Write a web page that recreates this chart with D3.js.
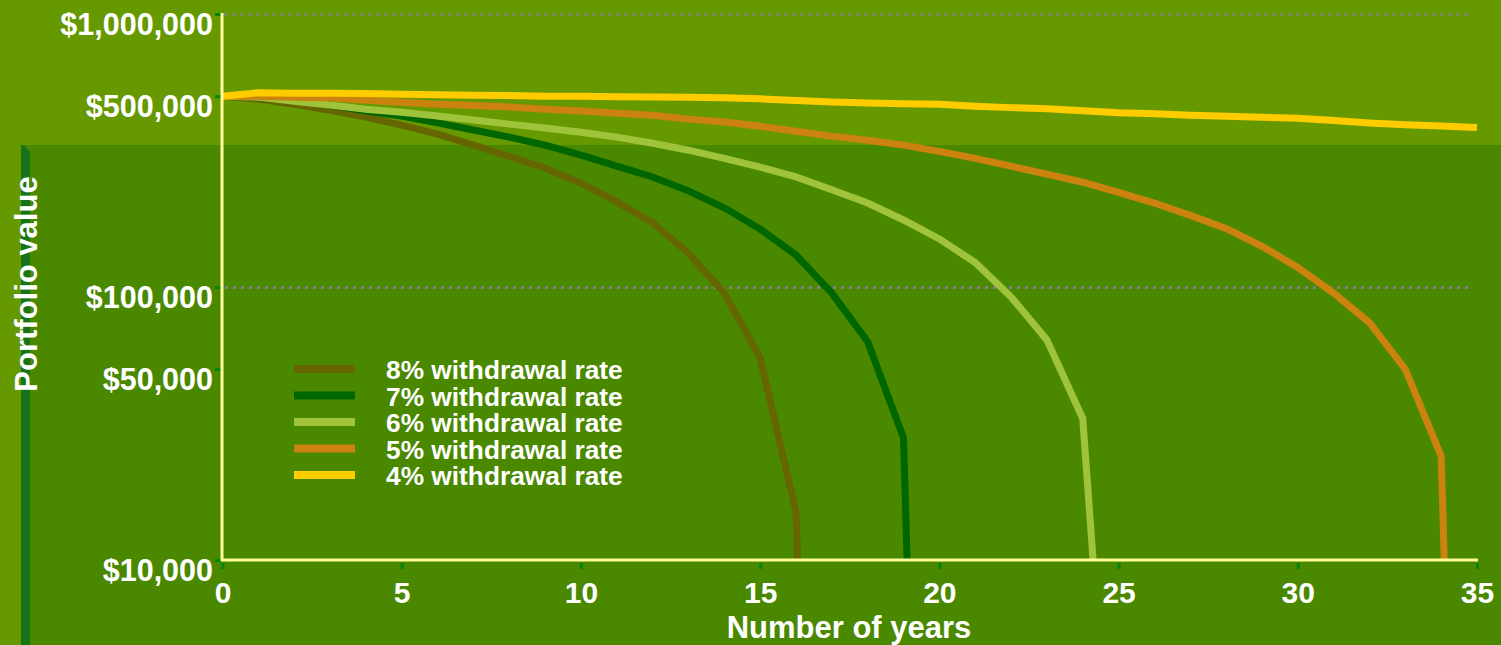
<!DOCTYPE html>
<html lang="en">
<head>
<meta charset="utf-8">
<title>Portfolio value by withdrawal rate</title>
<script src="https://cdn.jsdelivr.net/npm/d3@7"></script>
<style>
  body { margin: 0; background: #669900; overflow: hidden; }
  svg text { font-family: "Liberation Sans", Arial, sans-serif; font-weight: bold; fill: #ffffff; }
</style>
</head>
<body>
<div id="chart"></div>
<script>
// portfolio value at the end of each year (index = year)
var rate8 = [500000, 488000, 467000, 444000, 419000, 392000, 363000, 331000, 301000, 273000,
             240000, 205000, 172000, 133000, 95000, 55000, 15000, 1];
var rate7 = [500000, 497000, 484000, 464000, 441000, 423000, 399000, 376000, 354000, 331000,
             304000, 277000, 253000, 225000, 195000, 163000, 131000, 95000, 63000, 28000, 1];
var rate6 = [500000, 496000, 479000, 464000, 448000, 437000, 423000, 409000, 395000, 382000,
             369000, 354000, 336000, 317000, 296000, 275000, 253000, 227000, 203000, 176000,
             150000, 123000, 92000, 64000, 33000, 530];
var rate5 = [500000, 500000, 496000, 492000, 483000, 475000, 467000, 462000, 456000, 448000,
             441000, 433000, 426000, 412000, 402000, 388000, 372000, 357000, 345000, 331000,
             314000, 296000, 277000, 259000, 242000, 222000, 203000, 183000, 164000, 141000,
             118000, 95000, 74000, 50000, 24000, 1];
var rate4 = [500000, 515000, 513000, 513000, 511000, 508000, 506000, 504000, 503000, 500000,
             500000, 498000, 497000, 496000, 493000, 489000, 482000, 476000, 472000, 469000,
             467000, 459000, 454000, 450000, 442000, 435000, 431000, 426000, 422000, 419000,
             415000, 407000, 399000, 393000, 389000, 384000];

var seriesNames = ["8% withdrawal rate", "7% withdrawal rate", "6% withdrawal rate",
                   "5% withdrawal rate", "4% withdrawal rate"];
var seriesValues = [rate8, rate7, rate6, rate5, rate4];
var colors = ["#666600", "#006600", "#9fc43c", "#cc820e", "#ffcc00"];

var xTicks = [0, 5, 10, 15, 20, 25, 30, 35];
var yTicks = [10000, 50000, 100000, 500000, 1000000];
var gridValues = [100000, 1000000];

var w = 1501, h = 645;

var svg = d3.select("#chart").append("svg")
  .attr("width", w)
  .attr("height", h);

// backgrounds
svg.append("rect").attr("width", w).attr("height", h).attr("fill", "#669900");
svg.append("rect").attr("x", 21).attr("y", 145).attr("width", w - 21).attr("height", h - 145)
  .attr("fill", "#4a8800");
svg.append("path").attr("d", "M21,145 L24,145 L30,152 L30,645 L21,645 Z").attr("fill", "#16731a");

var xScale = d3.scaleLinear().domain([0, 35]).range([222.5, 1477]);
var yScale = d3.scaleLog().domain([10000, 1000000]).range([560, 14]);

// dotted gridlines
svg.selectAll(".grid")
  .data(gridValues)
  .enter()
  .append("line")
  .attr("class", "grid")
  .attr("x1", 225)
  .attr("x2", 1470)
  .attr("y1", function(d) { return Math.floor(yScale(d)) + 0.5; })
  .attr("y2", function(d) { return Math.floor(yScale(d)) + 0.5; })
  .attr("stroke", "#808085")
  .attr("stroke-width", 3)
  .attr("stroke-dasharray", "3,5");

// clip lines to plot area
svg.append("clipPath").attr("id", "plotclip")
  .append("rect").attr("x", 222).attr("y", 0).attr("width", 1270).attr("height", 560);

var line = d3.line()
  .x(function(d, i) { return xScale(i); })
  .y(function(d) { return yScale(d); });

svg.append("g").attr("clip-path", "url(#plotclip)")
  .selectAll("path")
  .data(seriesValues)
  .enter()
  .append("path")
  .attr("d", function(d) { return line(d); })
  .attr("fill", "none")
  .attr("stroke", function(d, i) { return colors[i]; })
  .attr("stroke-width", 7);

// x axis
var xAxis = svg.append("g")
  .attr("transform", "translate(0,560)")
  .call(d3.axisBottom(xScale).tickValues(xTicks).tickSize(0).tickPadding(0));
xAxis.select(".domain").remove();
xAxis.selectAll(".tick line")
  .attr("y1", 3).attr("y2", 9)
  .attr("stroke", "#00870a").attr("stroke-width", 3);
xAxis.selectAll(".tick text")
  .attr("y", 43).attr("dy", null)
  .style("font-size", "30px");

// y axis
var yAxis = svg.append("g")
  .attr("transform", "translate(222,0)")
  .call(d3.axisLeft(yScale).tickValues(yTicks).tickFormat(d3.format("$,")).tickSize(0).tickPadding(0));
yAxis.select(".domain").remove();
yAxis.selectAll(".tick line")
  .attr("x1", -7).attr("x2", -1)
  .attr("stroke", "#00870a").attr("stroke-width", 3);
yAxis.selectAll(".tick text")
  .attr("x", -9).attr("y", 20).attr("dy", null)
  .style("font-size", "30.5px");

// axis lines
svg.append("line").attr("x1", 222).attr("x2", 222).attr("y1", 13).attr("y2", 561)
  .attr("stroke", "#ffff99").attr("stroke-width", 3);
svg.append("line").attr("x1", 221).attr("x2", 1478).attr("y1", 560).attr("y2", 560)
  .attr("stroke", "#ffff99").attr("stroke-width", 3);

// axis titles
svg.append("text")
  .text("Number of years")
  .attr("x", 849).attr("y", 638)
  .attr("text-anchor", "middle")
  .style("font-size", "31px");

svg.append("text")
  .text("Portfolio value")
  .attr("transform", "translate(37,284) rotate(-90)")
  .attr("text-anchor", "middle")
  .style("font-size", "31px");

// legend
var legend = svg.selectAll(".legend")
  .data(seriesNames)
  .enter()
  .append("g")
  .attr("class", "legend")
  .attr("transform", function(d, i) { return "translate(0," + (369 + i * 26.5) + ")"; });

legend.append("line")
  .attr("x1", 294).attr("x2", 355)
  .attr("stroke", function(d, i) { return colors[i]; })
  .attr("stroke-width", 8);

legend.append("text")
  .text(function(d) { return d; })
  .attr("x", 386).attr("y", 10)
  .style("font-size", "26.3px");
</script>
</body>
</html>
